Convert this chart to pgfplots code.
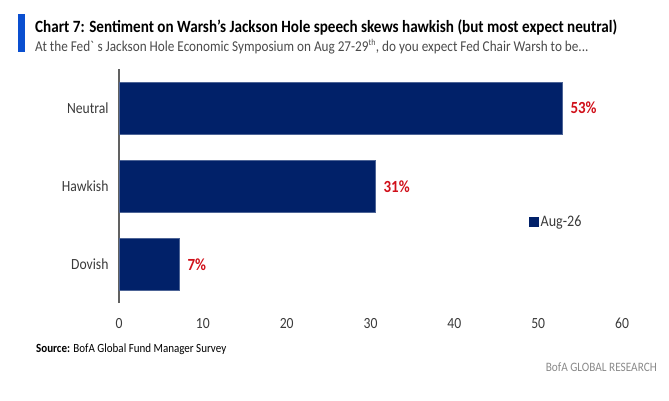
\documentclass[border=0pt]{standalone}
\usepackage{fontspec}
\setmainfont{Carlito}[FakeStretch=0.88]
\usepackage{pgfplots}
\pgfplotsset{compat=1.18}
\definecolor{barnavy}{HTML}{012169}
\definecolor{labred}{HTML}{D0101A}
\definecolor{titleblue}{HTML}{0A4FD0}
\definecolor{tickgray}{HTML}{3A3A3A}
\definecolor{subgray}{HTML}{4A4A4A}
\definecolor{footgray}{HTML}{8A8A8A}
\begin{document}
\begin{tikzpicture}[x=1bp,y=1bp]
\path[use as bounding box] (0,0) rectangle (669,400);
% title block
\fill[titleblue] (18,400-52) rectangle (25,400-14);
\node[anchor=base west,inner sep=0pt,text=black] at (35,400-32)
  {\fontsize{17.2bp}{19bp}\selectfont\bfseries Chart 7: Sentiment on Warsh's Jackson Hole speech skews hawkish (but most expect neutral)};
\node[anchor=base west,inner sep=0pt,text=subgray] at (35,400-51)
  {\fontsize{15bp}{18bp}\selectfont At the Fed\textasciigrave\ s Jackson Hole Economic Symposium on Aug 27-29\textsuperscript{\fontsize{9bp}{10bp}\selectfont th}, do you expect Fed Chair Warsh to be...};
\begin{axis}[
  at={(119bp,97bp)}, anchor=south west,
  scale only axis, width=503bp, height=234bp,
  xbar, bar width=52bp,
  xmin=0, xmax=60, ymin=-0.49, ymax=2.5,
  ytick={0,1,2}, yticklabels={Dovish,Hawkish,Neutral},
  xtick={0,10,...,60},
  axis x line*=bottom, axis y line*=left,
  x axis line style={draw=none},
  y axis line style={draw=tickgray!80, line width=1.3bp, -},
  major tick length=0pt,
  tick style={draw=none},
  /pgf/number format/assume math mode=true,
  ticklabel style={font=\fontsize{15.5bp}{18bp}\selectfont, text=tickgray},
  xticklabel style={yshift=-12bp},
  yticklabel style={xshift=-7bp},
  nodes near coords,
  point meta=explicit symbolic,
  every node near coord/.append style={font=\fontsize{17bp}{19bp}\selectfont\bfseries, text=labred, anchor=west, xshift=5bp},
  legend style={at={(0.815,0.346)}, anchor=west, draw=none, fill=none,
    inner sep=0pt, font=\fontsize{16bp}{18bp}\selectfont, text=tickgray,
    /tikz/every even column/.append style={column sep=0pt}},
  legend image code/.code={\fill[barnavy] (0bp,-4.5bp) rectangle (9bp,4.5bp);},
]
\addplot[fill=barnavy, draw=barnavy!70!white, line width=0.5bp] coordinates {
  (7.16,0) [7\%]
  (30.54,1) [31\%]
  (52.84,2) [53\%]
};
\addlegendentry{Aug-26}
\end{axis}
\node[anchor=base west,inner sep=0pt,text=black] at (36,400-352)
  {\fontsize{12.5bp}{14bp}\selectfont\textbf{Source:} BofA Global Fund Manager Survey};
\node[anchor=base east,inner sep=0pt,text=footgray] at (657,400-371)
  {\fontsize{12.8bp}{14bp}\selectfont BofA GLOBAL RESEARCH};
\end{tikzpicture}
\end{document}
